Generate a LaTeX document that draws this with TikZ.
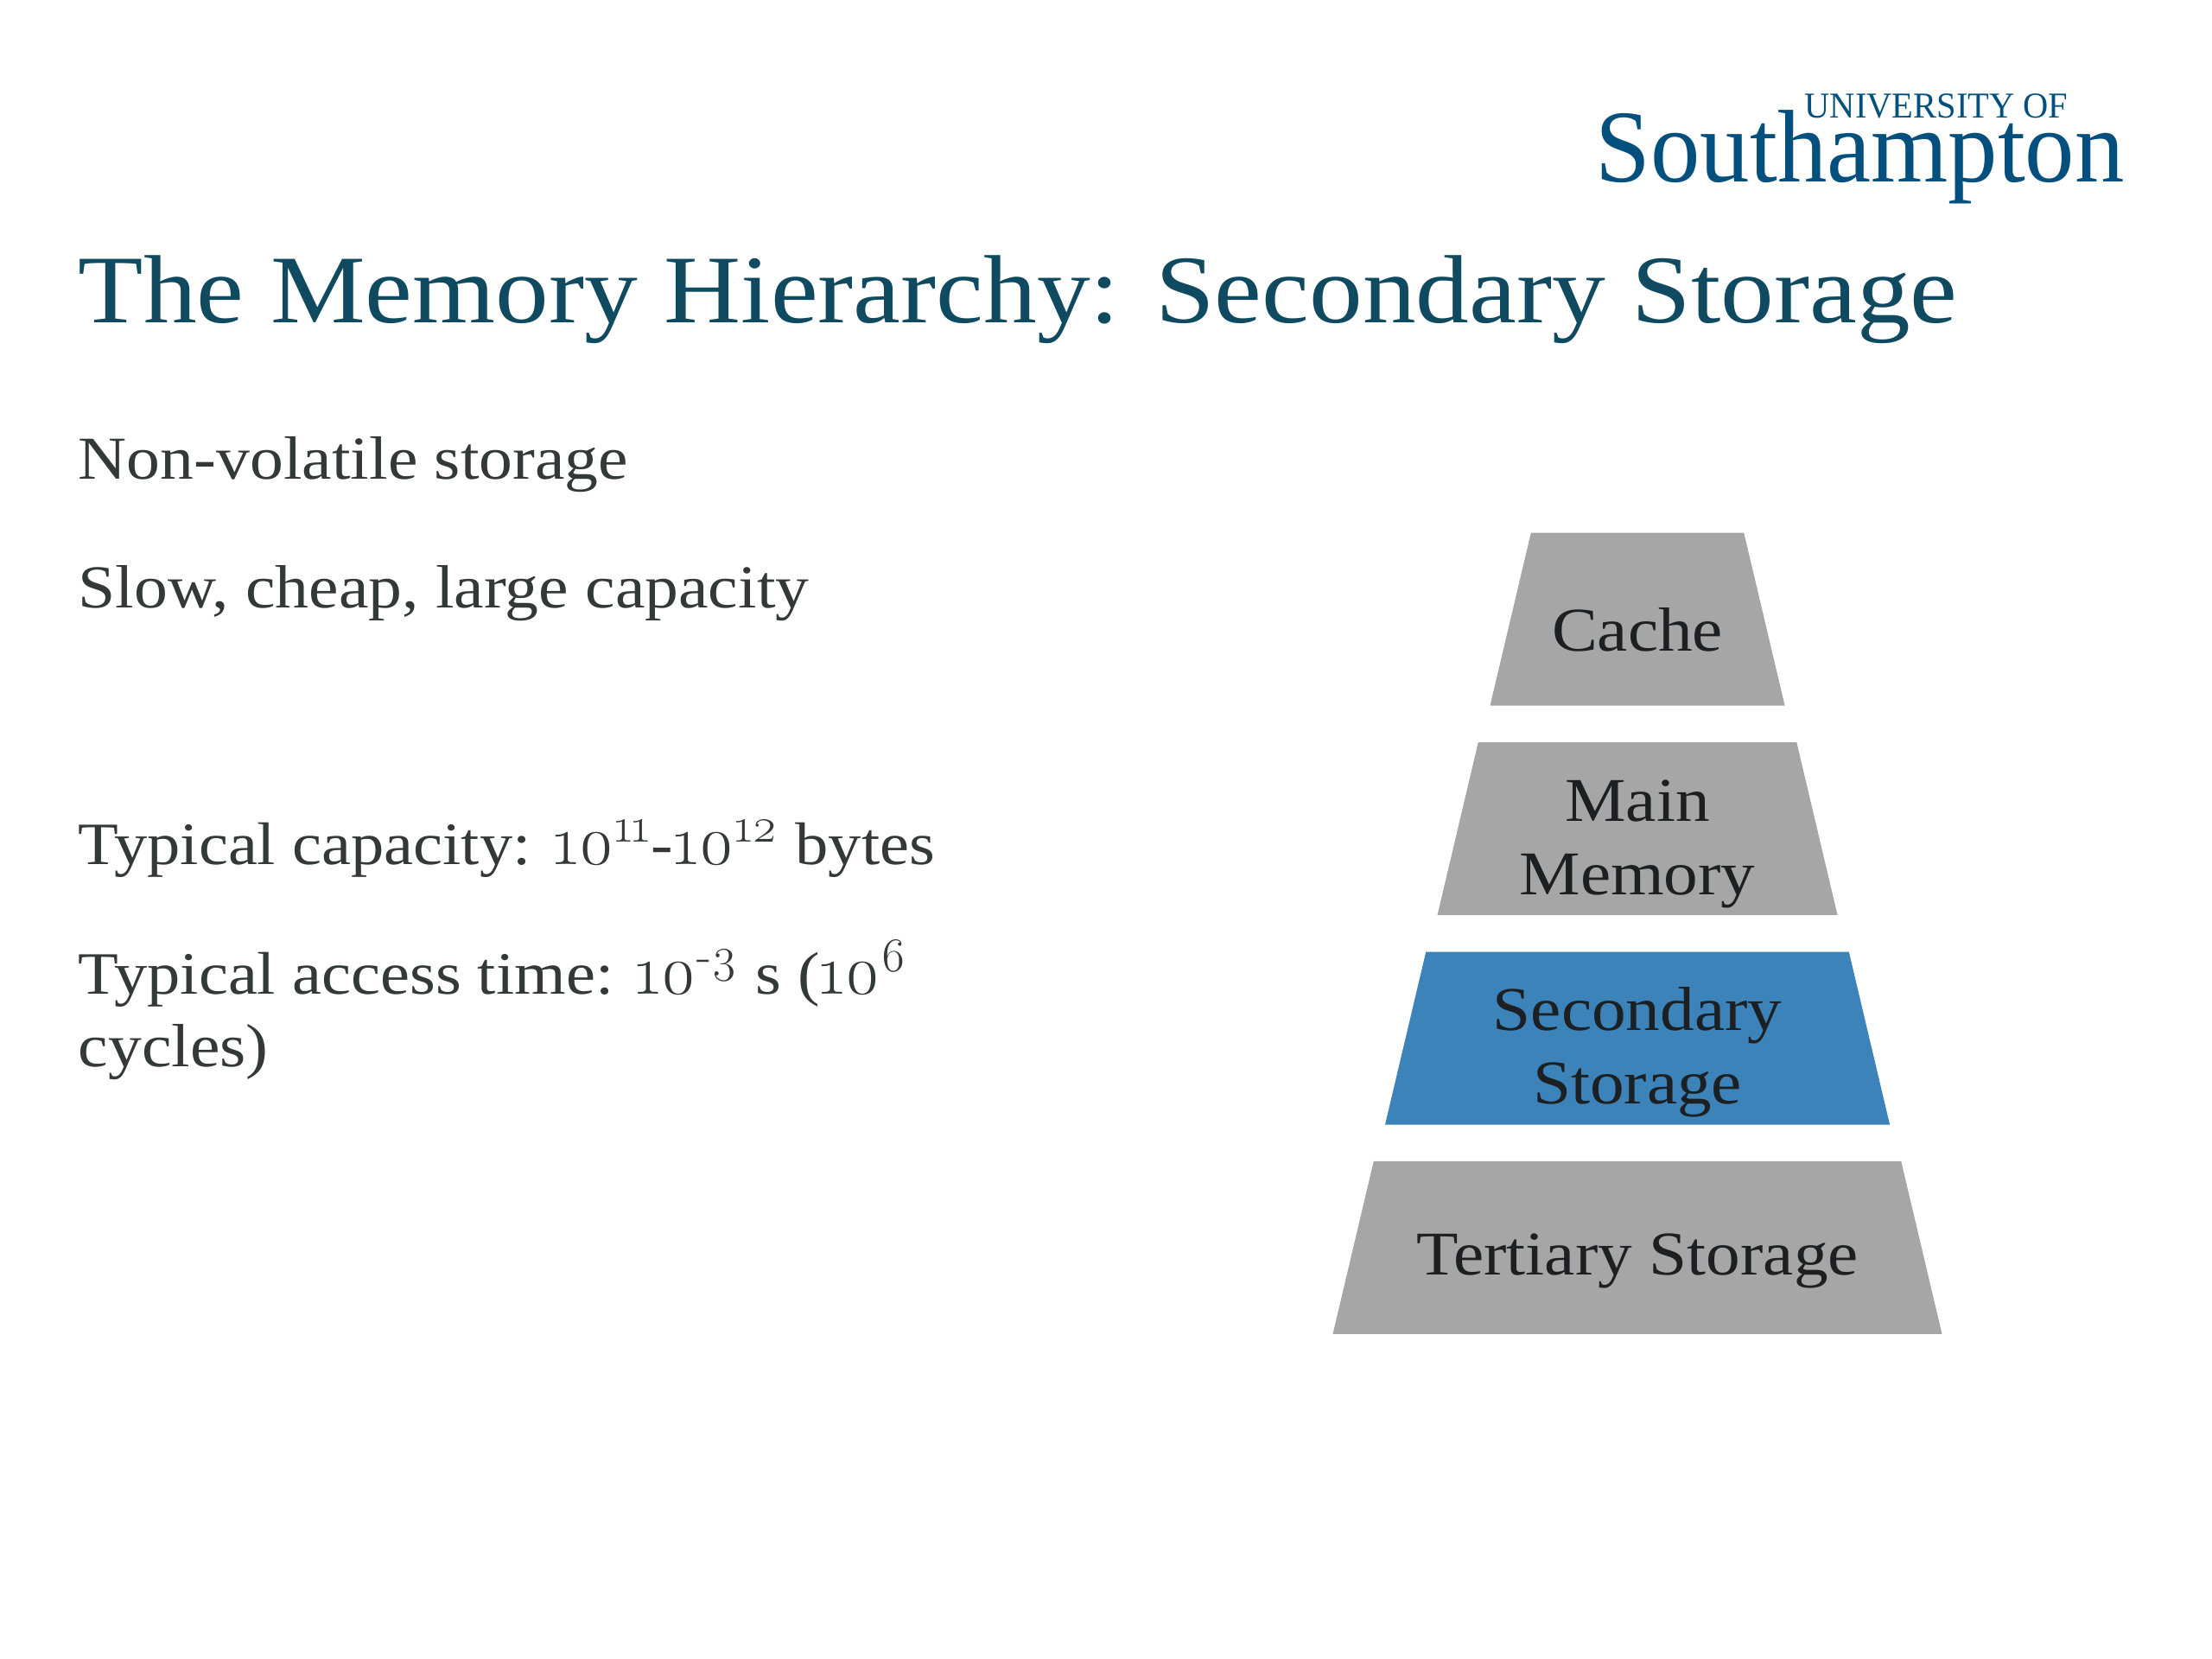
\documentclass[tikz,border=0pt]{standalone}
\usepackage{fontspec}
\setmainfont[FakeStretch=1.1]{Liberation Serif}
\newfontfamily\numfont[Scale=1.15,Numbers=OldStyle]{Latin Modern Roman}
\newfontfamily\logofont[FakeStretch=0.96]{Liberation Serif}
\usetikzlibrary{positioning,shapes.geometric}
\definecolor{titleteal}{HTML}{0F4A60}
\definecolor{logoblue}{HTML}{03507E}
\definecolor{bodygrey}{HTML}{333838}
\definecolor{levelgrey}{HTML}{A6A6A6}
\definecolor{levelblue}{HTML}{3C83BA}
\definecolor{leveltext}{HTML}{1C2022}
\tikzset{
  mem/level/.style={trapezium, trapezium left angle=76.7, trapezium right angle=76.7,
    fill=levelgrey, inner sep=0pt, text height=2cm, text depth=0pt},
  mem/active/.style={mem/level, fill=levelblue},
  mem/levelname/.style={text=leveltext, inner sep=0pt, align=center, font=\fontsize{20.5}{24.2}\selectfont},
  mem/title/.style={anchor=base west, inner sep=0pt, text=titleteal, font=\fontsize{31.9}{38}\selectfont},
  mem/body/.style={anchor=base west, inner sep=0pt, text=bodygrey, align=left, font=\fontsize{20.1}{24.2}\selectfont},
  mem/figures/.style={mem/body, font=\fontsize{19.8}{24.2}\selectfont},
  mem/logo/.style={anchor=base west, inner sep=0pt, text=logoblue, font=\logofont}
}
\newcommand{\onum}[1]{{\numfont #1}}
\newcommand{\upnum}[1]{\textsuperscript{\numfont #1}}

\begin{document}
\begin{tikzpicture}[node distance=4.1mm]
  \useasboundingbox (0,0) rectangle (25.6,19.2);
  \node[mem/logo, font=\logofont\fontsize{34}{40}\selectfont] (logomain) at (18.46,17.09) {Southampton};
  \node[mem/logo, font=\logofont\fontsize{12}{14}\selectfont] (logotop) at (20.88,17.83) {UNIVERSITY OF};
  \node[mem/title] (title) at (0.9,15.46) {The Memory Hierarchy: Secondary Storage};

  \node[mem/body] (volatile) at (0.9,13.65) {Non-volatile storage};
  \node[mem/body] (cheap) at (0.9,12.16) {Slow, cheap, large capacity};
  \node[mem/figures] (capacity) at (0.9,9.19) {Typical capacity: \onum{10}\upnum{11}-\onum{10}\upnum{12} bytes};
  \node[mem/figures] (access) at (0.9,7.69) {Typical access time: \onum{10}\upnum{-3} s (\onum{10}\upnum{6}};
  \node[mem/body] (cycles) at (0.9,6.85) {cycles)};

  \node[mem/level, text width=6.105cm] (tertiary) at (18.95,4.76) {};
  \node[mem/active, text width=4.895cm, above=of tertiary] (secondary) {};
  \node[mem/level, text width=3.685cm, above=of secondary] (main) {};
  \node[mem/level, text width=2.465cm, above=of main] (cache) {};

  \node[mem/levelname, yshift=-1.55mm] (tertiaryname) at (tertiary.center) {Tertiary Storage};
  \node[mem/levelname, yshift=-1.6mm] (secondaryname) at (secondary.center) {Secondary\\Storage};
  \node[mem/levelname, yshift=-1.8mm] (mainname) at (main.center) {Main\\Memory};
  \node[mem/levelname, yshift=-1.2mm] (cachename) at (cache.center) {Cache};
\end{tikzpicture}
\end{document}
